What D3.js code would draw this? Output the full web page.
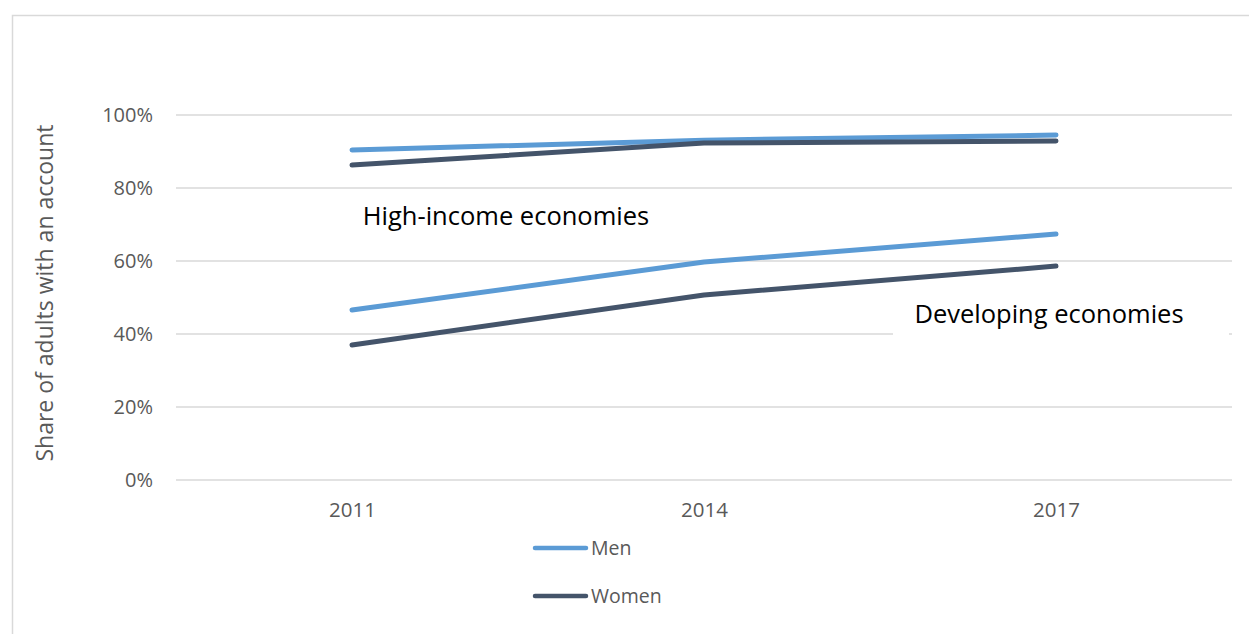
<!DOCTYPE html>
<html>
<head>
<meta charset="utf-8">
<script src="https://cdn.jsdelivr.net/npm/d3@7"></script>
<style>
  html, body { margin: 0; padding: 0; background: #fff; }
  svg { display: block; }
  text { font-family: "Open Sans", sans-serif; }
</style>
</head>
<body>
<svg id="chart" width="1249" height="634"></svg>
<script>
// Account ownership by gender, 2011–2017
const years = ["2011", "2014", "2017"];
const highMen = [90.4, 93.1, 94.5];
const highWomen = [86.3, 92.3, 92.9];
const devMen = [46.6, 59.7, 67.4];
const devWomen = [37.0, 50.7, 58.6];
const yTicks = [0, 20, 40, 60, 80, 100];
const legendItems = ["Men", "Women"];

const colors = { Men: "#5B9BD5", Women: "#44546A" };

const svg = d3.select("#chart");

// outer chart frame
svg.append("rect")
  .attr("x", 12.5).attr("y", 15.5)
  .attr("width", 1300).attr("height", 700)
  .attr("fill", "#fff").attr("stroke", "#d9d9d9").attr("stroke-width", 1.5);

const plot = { left: 176, right: 1232, top: 115, bottom: 480 };

const x = d3.scalePoint().domain(years)
  .range([plot.left, plot.right]).padding(0.5);
const y = d3.scaleLinear().domain([0, 100]).range([plot.bottom, plot.top]);

// gridlines
svg.append("g").selectAll("line").data(yTicks).join("line")
  .attr("x1", plot.left).attr("x2", plot.right)
  .attr("y1", d => y(d)).attr("y2", d => y(d))
  .attr("stroke", "#d9d9d9").attr("stroke-width", 1.5);

// y axis labels
const yAxis = d3.axisLeft(y).tickValues(yTicks).tickFormat(d => d + "%").tickSize(0).tickPadding(0);
const gy = svg.append("g").attr("transform", `translate(${plot.left - 23},0)`).call(yAxis);
gy.select(".domain").remove();
gy.selectAll("text").attr("font-size", 20).attr("fill", "#595959")
  .attr("font-family", "Open Sans, sans-serif");

// x axis labels
const xAxis = d3.axisBottom(x).tickSize(0).tickPadding(0);
const gx = svg.append("g").attr("transform", `translate(0,${plot.bottom + 22})`).call(xAxis);
gx.select(".domain").remove();
gx.selectAll("text").attr("font-size", 20.5).attr("fill", "#595959")
  .attr("font-family", "Open Sans, sans-serif");

// y axis title
svg.append("text")
  .attr("transform", "translate(53,293) rotate(-90)")
  .attr("text-anchor", "middle")
  .attr("font-size", 23).attr("fill", "#595959")
  .text("Share of adults with an account");

// group annotations with white backing
function annotate(text, bx, bw, baseline, cx) {
  svg.append("rect").attr("x", bx).attr("y", baseline - 36)
    .attr("width", bw).attr("height", 52).attr("fill", "#fff");
  svg.append("text").attr("x", cx).attr("y", baseline)
    .attr("text-anchor", "middle").attr("font-size", 25.5).attr("fill", "#000")
    .text(text);
}
annotate("High-income economies", 342, 340, 225, 506);
annotate("Developing economies", 893, 336, 323, 1049);

// series lines
const line = d3.line().x((d, i) => x(years[i])).y(d => y(d));
const series = [
  { name: "Men", values: highMen },
  { name: "Women", values: highWomen },
  { name: "Men", values: devMen },
  { name: "Women", values: devWomen }
];
svg.append("g").selectAll("path").data(series).join("path")
  .attr("d", d => line(d.values))
  .attr("fill", "none")
  .attr("stroke", d => colors[d.name])
  .attr("stroke-width", 5)
  .attr("stroke-linecap", "round")
  .attr("stroke-linejoin", "round");

// legend
const lg = svg.append("g").selectAll("g").data(legendItems).join("g")
  .attr("transform", (d, i) => `translate(535,${548 + i * 48})`);
lg.append("line").attr("x1", 0).attr("x2", 51).attr("y1", 0).attr("y2", 0)
  .attr("stroke", d => colors[d]).attr("stroke-width", 4.5).attr("stroke-linecap", "round");
lg.append("text").attr("x", 56).attr("y", 7)
  .attr("font-size", 19.5).attr("fill", "#595959").text(d => d);
</script>
</body>
</html>
